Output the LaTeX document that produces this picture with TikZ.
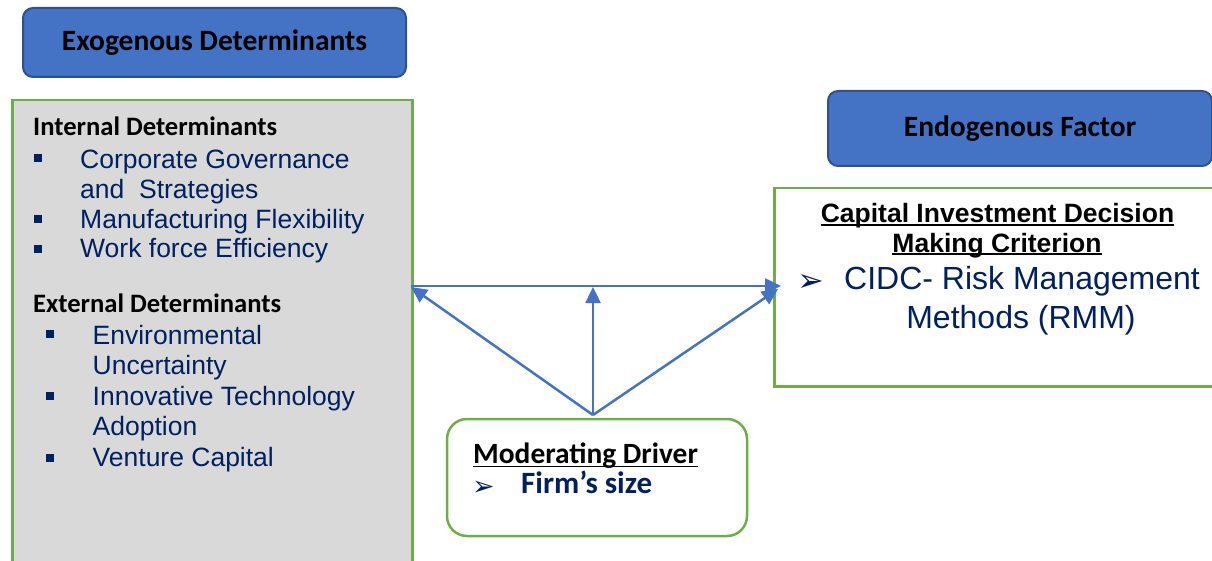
\documentclass[tikz,border=0pt]{standalone}
\usepackage{fontspec}
\setmainfont{Liberation Sans}
\newfontfamily\calib{Carlito}
\newfontfamily\djv{DejaVu Sans}
\usetikzlibrary{arrows.meta}
\definecolor{hdrblue}{HTML}{4472C4}
\definecolor{hdrborder}{HTML}{2F528F}
\definecolor{grn}{HTML}{70AD47}
\definecolor{lgray}{HTML}{D9D9D9}
\definecolor{navy}{HTML}{002060}
\definecolor{arrblue}{HTML}{4472C4}
\newcommand{\ulthick}[2]{\leavevmode\setbox0\hbox{#2}\dp0=0pt\vtop{\box0\kern#1\hrule height 1.9pt}}
\begin{document}
\begin{tikzpicture}[x=1pt,y=-1pt,
  hdr/.style={draw=hdrborder, line width=2pt, fill=hdrblue, rounded corners=10pt, inner sep=0pt,
    font=\calib\bfseries\fontsize{29.5}{33}\selectfont},
  gbox/.style={draw=grn, line width=2.5pt, inner sep=0pt},
  txt/.style={inner sep=0pt, anchor=base west},
  bodytxt/.style={txt, text=navy, font=\fontsize{26.5}{30}\selectfont},
  subhdr/.style={txt, font=\calib\bfseries\fontsize{26.6}{30}\selectfont},
  bul/.style={fill=navy},
  conn/.style={draw=arrblue, line width=2.5pt, -{Triangle[length=16pt,width=15pt]}}
]
\useasboundingbox (0,0) rectangle (1212,561);
% header boxes
\node[hdr, minimum width=383pt, minimum height=69pt] (exo) at (214.5,42.5) {Exogenous Determinants};
\node[hdr, minimum width=384pt, minimum height=75pt] (endo) at (1020,128.5) {Endogenous Factor};
% left box
\node[gbox, fill=lgray, anchor=north west, minimum width=400pt, minimum height=480pt] (left) at (11,99) {};
% right box
\node[gbox, fill=white, anchor=north west, minimum width=443pt, minimum height=198pt] (right) at (773,187) {};
% moderating box
\node[gbox, fill=white, rounded corners=20pt, minimum width=300pt, minimum height=117pt] (mod) at (597,477.5) {};
% left texts
\node[subhdr] (inthdr) at (33,136) {Internal Determinants};
\fill[bul] (34,154) rectangle (42,162);
\node[bodytxt] (i1) at (80,169) {Corporate Governance};
\node[bodytxt] (i1b) at (80,199) {and\ \ Strategies};
\fill[bul] (34,215) rectangle (42,223);
\node[bodytxt] (i2) at (80,228.5) {Manufacturing Flexibility};
\fill[bul] (34,245) rectangle (42,253);
\node[bodytxt] (i3) at (80,258) {Work force Efficiency};
\node[subhdr] (exthdr) at (33,312) {External Determinants};
\fill[bul] (46,329.5) rectangle (54,337.5);
\node[bodytxt] (e1) at (92.5,344) {Environmental};
\node[bodytxt] (e1b) at (92.5,374.5) {Uncertainty};
\fill[bul] (46,391.5) rectangle (54,399.5);
\node[bodytxt] (e2) at (92.5,405) {Innovative Technology};
\node[bodytxt] (e2b) at (92.5,435.5) {Adoption};
\fill[bul] (46,453.5) rectangle (54,461.5);
\node[bodytxt] (e3) at (92.5,466) {Venture Capital};
% right texts
\node[inner sep=0pt, anchor=base, font=\bfseries\fontsize{26.5}{30}\selectfont] (r1) at (997.5,223) {\ulthick{0.8pt}{Capital Investment Decision}};
\node[inner sep=0pt, anchor=base, font=\bfseries\fontsize{26.5}{30}\selectfont] (r2) at (997,252.5) {\ulthick{0.8pt}{Making Criterion}};
\node[txt, text=navy, font=\djv\fontsize{32}{38}\selectfont] (rarr) at (797,291) {➢};
\node[txt, text=navy, font=\fontsize{32}{38}\selectfont] (r3) at (844,290) {CIDC- Risk Management};
\node[inner sep=0pt, anchor=base, text=navy, font=\fontsize{32}{38}\selectfont] (r4) at (1021,328) {Methods (RMM)};
% moderating texts
\node[txt, font=\calib\bfseries\fontsize{29.4}{33}\selectfont] (m1) at (473,463) {\ulthick{2.5pt}{Moderating Driver}};
\node[txt, text=navy, font=\djv\fontsize{27}{30}\selectfont] (marr) at (472,495) {➢};
\node[txt, text=navy, font=\calib\bfseries\fontsize{31}{34}\selectfont] (m2) at (521,493) {Firm’s size};
% connectors
\coordinate (src) at (593,415);
\coordinate (lt) at (411,287);
\coordinate (mt) at (593,287);
\coordinate (rt) at (778,289);
\coordinate (hl) at (411,286);
\coordinate (hr) at (781,286);
\draw[conn] (hl) -- (hr);
\draw[conn] (src) -- (lt);
\draw[conn] (src) -- (mt);
\draw[conn] (src) -- (rt);
\end{tikzpicture}
\end{document}
